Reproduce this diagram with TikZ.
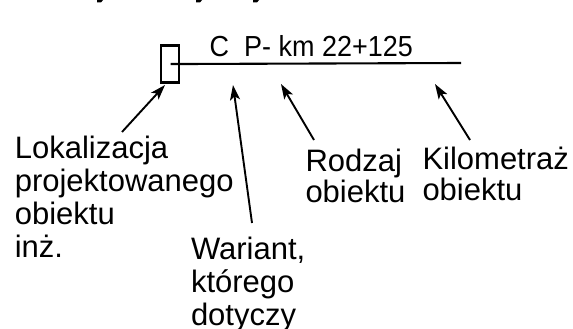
\documentclass[tikz,border=0pt]{standalone}
\usepackage{fontspec}
\setmainfont{Liberation Sans}
\usetikzlibrary{arrows.meta}
\begin{document}
\begin{tikzpicture}[x=1pt,y=-1pt,
  lbl/.style={anchor=north west,inner sep=0pt,outer sep=0pt,align=left,
    font=\fontsize{31}{33}\selectfont},
  lbltwo/.style={lbl,font=\fontsize{31}{31.5}\selectfont},
  thick line/.style={line width=2.1pt},
  ptr/.style={line width=1.9pt,-{Stealth[length=15pt,width=10pt,inset=3.5pt]}}]
\useasboundingbox (0,0) rectangle (573,329);
% cut-off fragments at the top edge
\fill (97,0) -- (103,0) -- (101,2.5) -- (97,2.5) -- cycle;
\fill (196,0) -- (202,0) -- (200,2.5) -- (196,2.5) -- cycle;
\fill (253,0) -- (259,0) -- (257,2.5) -- (253,2.5) -- cycle;
% symbol
\node[draw,thick line,minimum width=18pt,minimum height=37pt,inner sep=0pt,anchor=north west] (box) at (159.5,44.5) {};
\coordinate (lineend) at (461,63);
\draw[thick line] (box.center) ++(1,0) coordinate (linestart) -- (lineend);
\node[anchor=base west,inner sep=0pt] (code) at (209.5,56.5)
  {\scalebox{0.93}[1]{\fontsize{29}{30}\selectfont C\ \ P- km 22+125}};
% labels
\node[lbl] (lok) at (14.8,136) {Lokalizacja\\projektowanego\\obiektu\\inż.};
\node[lbl] (war) at (191,237) {Wariant,\\którego\\dotyczy};
\node[lbltwo] (rod) at (305.5,149) {Rodzaj\\obiektu};
\node[lbltwo] (kil) at (422.5,147) {Kilometraż\\obiektu};
% arrows
\coordinate (h1) at (165,85);
\coordinate (t1) at (122,132);
\coordinate (h2) at (233,85);
\coordinate (t2) at (252,223);
\coordinate (h3) at (281,84);
\coordinate (t3) at (314,140);
\coordinate (h4) at (435,84);
\coordinate (t4) at (470,140);
\draw[ptr] (t1) -- (h1);
\draw[ptr] (t2) -- (h2);
\draw[ptr] (t3) -- (h3);
\draw[ptr] (t4) -- (h4);
\end{tikzpicture}
\end{document}
